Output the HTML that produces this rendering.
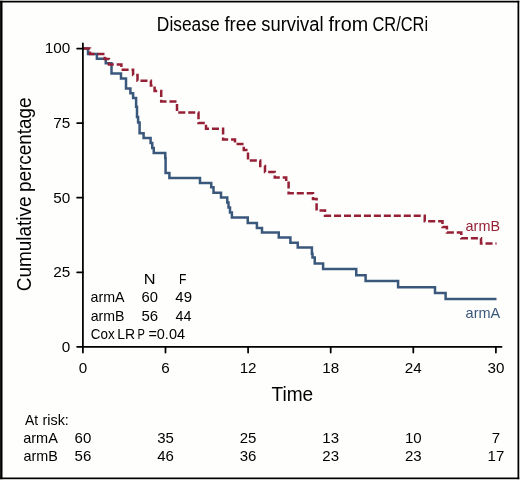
<!DOCTYPE html>
<html><head><meta charset="utf-8"><style>
html,body{margin:0;padding:0;background:#fefefd;width:520px;height:480px;overflow:hidden;}
svg{display:block;will-change:transform;}
text{font-family:"Liberation Sans", sans-serif;}
</style></head><body>
<svg width="520" height="480" viewBox="0 0 520 480">
<rect x="0" y="0" width="520" height="480" fill="#fefefd"/>
<rect x="0.1" y="0.75" width="2.4" height="478.45" fill="#000"/>
<rect x="0.1" y="0.75" width="519.15" height="1.75" fill="#000"/>
<rect x="517.5" y="0.75" width="1.75" height="478.45" fill="#000"/>
<rect x="0.1" y="477.5" width="519.15" height="1.7" fill="#000"/>

<text x="156.87" y="30.9" font-size="19.5" textLength="62.78" lengthAdjust="spacingAndGlyphs">Disease</text>
<text x="224.42" y="30.9" font-size="19.5" textLength="32.19" lengthAdjust="spacingAndGlyphs">free</text>
<text x="261.3" y="30.9" font-size="19.5" textLength="62.24" lengthAdjust="spacingAndGlyphs">survival</text>
<text x="328.6" y="30.9" font-size="19.5" textLength="39.58" lengthAdjust="spacingAndGlyphs">from</text>
<text x="372.48" y="30.9" font-size="19.5" textLength="55.61" lengthAdjust="spacingAndGlyphs">CR/CRi</text>
<path d="M77.1,346.85H82.9" stroke="#000" stroke-width="1.75" stroke-linecap="round"/>
<text x="70.2" y="351.75" font-size="15.3" text-anchor="end">0</text>
<path d="M77.1,272.26H82.9" stroke="#000" stroke-width="1.75" stroke-linecap="round"/>
<text x="70.2" y="277.16" font-size="15.3" text-anchor="end">25</text>
<path d="M77.1,197.68H82.9" stroke="#000" stroke-width="1.75" stroke-linecap="round"/>
<text x="70.2" y="202.58" font-size="15.3" text-anchor="end">50</text>
<path d="M77.1,123.09H82.9" stroke="#000" stroke-width="1.75" stroke-linecap="round"/>
<text x="70.2" y="127.99" font-size="15.3" text-anchor="end">75</text>
<path d="M77.1,48.50H82.9" stroke="#000" stroke-width="1.75" stroke-linecap="round"/>
<text x="70.2" y="53.40" font-size="15.3" text-anchor="end">100</text>
<path d="M82.90,346.85V352.5" stroke="#000" stroke-width="1.75" stroke-linecap="round"/>
<text x="82.90" y="373" font-size="15.2" text-anchor="middle">0</text>
<path d="M165.50,346.85V352.5" stroke="#000" stroke-width="1.75" stroke-linecap="round"/>
<text x="165.50" y="373" font-size="15.2" text-anchor="middle">6</text>
<path d="M248.10,346.85V352.5" stroke="#000" stroke-width="1.75" stroke-linecap="round"/>
<text x="248.10" y="373" font-size="15.2" text-anchor="middle">12</text>
<path d="M330.70,346.85V352.5" stroke="#000" stroke-width="1.75" stroke-linecap="round"/>
<text x="330.70" y="373" font-size="15.2" text-anchor="middle">18</text>
<path d="M413.30,346.85V352.5" stroke="#000" stroke-width="1.75" stroke-linecap="round"/>
<text x="413.30" y="373" font-size="15.2" text-anchor="middle">24</text>
<path d="M495.90,346.85V352.5" stroke="#000" stroke-width="1.75" stroke-linecap="round"/>
<text x="495.90" y="373" font-size="15.2" text-anchor="middle">30</text>
<text x="271.47" y="400.8" font-size="20.3" textLength="41.74" lengthAdjust="spacingAndGlyphs">Time</text>
<g transform="translate(31,0) rotate(-90)">
<text x="-291.2" y="0" font-size="19.6" textLength="94.79" lengthAdjust="spacingAndGlyphs">Cumulative</text>
<text x="-191.98" y="0" font-size="19.6" textLength="94.56" lengthAdjust="spacingAndGlyphs">percentage</text>
</g>
<path d="M83,48.5H88V54.1H96.9V58.8H105.75V63.3H111.5V73.5H121V78.5H126V88.5H130.4V93.3H133.1V97.9H136.1V106.8H137V117H138.1V122.5H139.6V133.3H143.6V138.1H150.6V143.1H152.25V148.1H153.75V153.1H165.25V158H165.6V172.9H169.4V177.9H200V182.9H211.25V187.3H213.5V192.7H221V197.5H227.25V202.5H228.5V207.5H230V212.5H231.9V217.5H247.75V223H256.9V227.9H262V232.5H278.75V237.5H290.4V242.75H297.75V247.5H311.9V253.75H312.5V257.5H314.75V263.5H323.1V269H356.25V275.2H365.6V281H398.1V287.2H435V293.1H445.6V299.1H496.5" fill="none" stroke="#3a577c" stroke-width="2.5"/>
<path d="M83,48.5H90V54.0H104.7V58.9H108.9V64.6H121.4V69.7H133.1V75H137.5V80.7H150.9V85.6H154.6V90.9H161.2V101.5H177V112.6H198.5V123H206V128.75H223.1V139.5H235V144H243.75V150H248V160.6H260.25V165.9H265V172.1H274.75V177.5H286.2V182.8H288.6V193.3H313.0V199H316.6V210.4H325V215.8H424.75V221.25H442.5V226.9H446.9V232.5H461.3V238.3H481V243.6H496.5" fill="none" stroke="#952035" stroke-width="2.5" stroke-dasharray="7.06 2.9"/>
<path d="M82.9,43.3V346.85H501.6" fill="none" stroke="#000" stroke-width="1.75" stroke-linecap="round"/>
<text x="465.59" y="231.0" font-size="15" textLength="34.46" lengthAdjust="spacingAndGlyphs" fill="#952035">armB</text>
<text x="465.58" y="318.4" font-size="15" textLength="34.64" lengthAdjust="spacingAndGlyphs" fill="#3a577c">armA</text>
<text x="143.65" y="283.5" font-size="15" textLength="11.79" lengthAdjust="spacingAndGlyphs">N</text>
<text x="179.0" y="283.5" font-size="15" textLength="7.39" lengthAdjust="spacingAndGlyphs">F</text>
<text x="90.59" y="302.0" font-size="15" textLength="34.03" lengthAdjust="spacingAndGlyphs">armA</text>
<text x="141.56" y="302.0" font-size="15" textLength="16.43" lengthAdjust="spacingAndGlyphs">60</text>
<text x="175.36" y="302.0" font-size="15" textLength="16.65" lengthAdjust="spacingAndGlyphs">49</text>
<text x="90.7" y="320.7" font-size="15" textLength="33.73" lengthAdjust="spacingAndGlyphs">armB</text>
<text x="141.5" y="320.7" font-size="15" textLength="16.67" lengthAdjust="spacingAndGlyphs">56</text>
<text x="175.58" y="320.7" font-size="15" textLength="15.95" lengthAdjust="spacingAndGlyphs">44</text>
<text x="90.83" y="339" font-size="15" textLength="23.85" lengthAdjust="spacingAndGlyphs">Cox</text>
<text x="117.35" y="339" font-size="15" textLength="17.82" lengthAdjust="spacingAndGlyphs">LR</text>
<text x="137.39" y="339" font-size="15" textLength="7.39" lengthAdjust="spacingAndGlyphs">P</text>
<text x="148.38" y="339" font-size="15" textLength="36.63" lengthAdjust="spacingAndGlyphs">=0.04</text>
<text x="24.97" y="424.5" font-size="14.8" textLength="13.14" lengthAdjust="spacingAndGlyphs">At</text>
<text x="42.53" y="424.5" font-size="14.8" textLength="26.26" lengthAdjust="spacingAndGlyphs">risk:</text>
<text x="23.18" y="442.5" font-size="15" textLength="34.64" lengthAdjust="spacingAndGlyphs">armA</text>
<text x="23.59" y="461.3" font-size="15" textLength="34.35" lengthAdjust="spacingAndGlyphs">armB</text>
<text x="82.90" y="442.5" font-size="15" text-anchor="middle">60</text>
<text x="82.90" y="461.3" font-size="15" text-anchor="middle">56</text>
<text x="165.50" y="442.5" font-size="15" text-anchor="middle">35</text>
<text x="165.50" y="461.3" font-size="15" text-anchor="middle">46</text>
<text x="248.10" y="442.5" font-size="15" text-anchor="middle">25</text>
<text x="248.10" y="461.3" font-size="15" text-anchor="middle">36</text>
<text x="330.70" y="442.5" font-size="15" text-anchor="middle">13</text>
<text x="330.70" y="461.3" font-size="15" text-anchor="middle">23</text>
<text x="413.30" y="442.5" font-size="15" text-anchor="middle">10</text>
<text x="413.30" y="461.3" font-size="15" text-anchor="middle">23</text>
<text x="495.90" y="442.5" font-size="15" text-anchor="middle">7</text>
<text x="495.90" y="461.3" font-size="15" text-anchor="middle">17</text>
</svg>
</body></html>
